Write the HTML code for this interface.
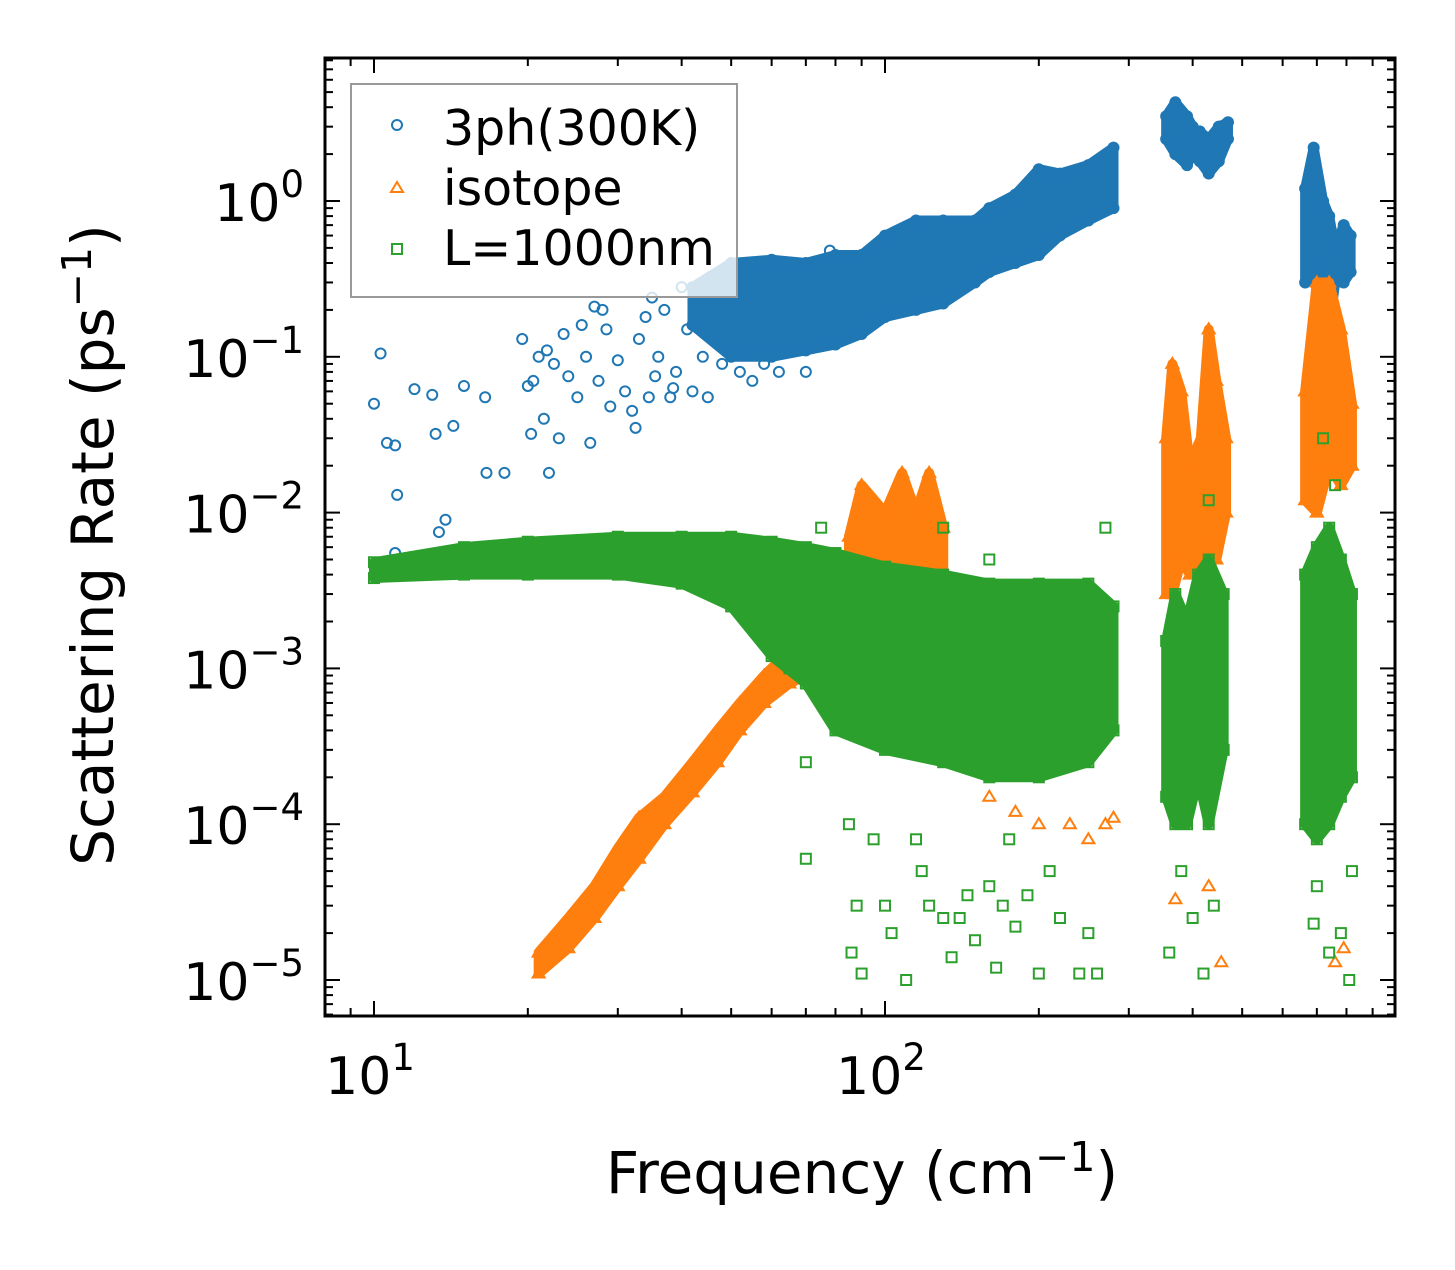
<!DOCTYPE html>
<html><head><meta charset="utf-8"><style>
body{margin:0;background:#fff}
svg text{font-family:"DejaVu Sans","Liberation Sans",sans-serif;fill:#000}
</style></head><body>
<svg id="chart" width="1455" height="1265" xmlns="http://www.w3.org/2000/svg">
<rect width="1455" height="1265" fill="#fff"/>
<g id="marks"></g>
<g id="axes"></g>
<g>
<rect x="351" y="84" width="386" height="213" fill="#fff" fill-opacity="0.8" stroke="#999" stroke-width="2"/>
<circle cx="397" cy="125" r="5" fill="none" stroke="#1f77b4" stroke-width="2"/>
<text x="443" y="145" font-size="49">3ph(300K)</text>
<path d="M397 182 L403 192 L391 192 Z" fill="none" stroke="#ff7f0e" stroke-width="2"/>
<text x="443" y="205" font-size="49">isotope</text>
<rect x="392" y="244" width="10" height="10" fill="none" stroke="#2ca02c" stroke-width="2"/>
<text x="443" y="265" font-size="49">L=1000nm</text>
</g>
<text x="862" y="1193" font-size="58" text-anchor="middle">Frequency (cm<tspan dy="-22" font-size="41">−1</tspan><tspan dy="22">)</tspan></text>
<text transform="translate(113,545) rotate(-90)" font-size="58" text-anchor="middle">Scattering Rate (ps<tspan dy="-22" font-size="41">−1</tspan><tspan dy="22">)</tspan></text>
</svg>
<script>
// ---- data (frequency cm^-1, rate ps^-1) ----
const xTicks = [10, 100];
const xTickLabels = ["1", "2"];
const yTicks = [1, 0.1, 0.01, 0.001, 0.0001, 0.00001];
const yTickLabels = ["0", "−1", "−2", "−3", "−4", "−5"];

const blueSparseF = [10,10.3,10.6,11,11.1,11,12,13,13.2,13.4,13.8,14.3,15,16.5,16.6,18,19.5,20,20.3,20.5,21,21.5,21.8,22,22.5,23,23.5,24,25,25.5,26,26.5,27,27.5,28,28.5,29,30,31,32,32.5,33,34,34.5,35,35.5,36,37,38,38.5,39,40,41,42,43,44,45,47,48,50,52,55,58,62,70,78,90];
const blueSparseR = [0.05,0.105,0.028,0.027,0.013,0.0055,0.062,0.057,0.032,0.0075,0.009,0.036,0.065,0.055,0.018,0.018,0.13,0.065,0.032,0.07,0.1,0.04,0.11,0.018,0.09,0.03,0.14,0.075,0.055,0.16,0.1,0.028,0.21,0.07,0.2,0.15,0.048,0.095,0.06,0.045,0.035,0.13,0.18,0.055,0.24,0.075,0.1,0.2,0.055,0.063,0.08,0.28,0.15,0.06,0.22,0.1,0.055,0.3,0.09,0.38,0.08,0.07,0.09,0.08,0.08,0.48,0.45];

const blueBandF = [42,50,60,70,80,90,100,115,130,150,160,180,200,220,250,280];
const blueBandLo = [0.16,0.1,0.1,0.11,0.12,0.14,0.18,0.2,0.22,0.3,0.35,0.4,0.45,0.6,0.75,0.9];
const blueBandHi = [0.28,0.4,0.42,0.4,0.45,0.45,0.6,0.75,0.75,0.75,0.9,1.1,1.6,1.5,1.7,2.2];
const blueSpikeAF = [355,370,390,400];
const blueSpikeALo = [2.5,2.0,1.7,2.0];
const blueSpikeAHi = [3.5,4.3,3.5,3.0];
const blueSpikeBF = [413,430,450,469];
const blueSpikeBLo = [1.8,1.5,1.8,2.5];
const blueSpikeBHi = [2.8,2.5,3.0,3.2];
const blueSpikeCF = [664,690,720,740,760,790,815];
const blueSpikeCLo = [0.3,0.4,0.1,0.15,0.3,0.3,0.35];
const blueSpikeCHi = [1.2,2.2,1.0,0.8,0.5,0.7,0.6];

const orangeLineF = [21,24,27,30,33,37,42,47,52,58,65,70];
const orangeLineLo = [1.1e-5,1.6e-5,2.5e-5,4e-5,6e-5,1e-4,1.6e-4,2.5e-4,4e-4,6e-4,8e-4,9e-4];
const orangeLineHi = [1.5e-5,2.5e-5,4e-5,7e-5,1.1e-4,1.5e-4,2.5e-4,4e-4,6e-4,9e-4,1.3e-3,1.1e-3];
const orangeClusterF = [85,90,100,108,115,122,130];
const orangeClusterLo = [4e-3,3e-3,3e-3,3e-3,3e-3,3e-3,3e-3];
const orangeClusterHi = [7e-3,1.5e-2,1e-2,1.8e-2,1e-2,1.8e-2,8e-3];
const orangeSpikeAF = [355,365,380,395,415,430,445,465];
const orangeSpikeALo = [3e-3,3e-3,5e-3,4e-3,5e-3,6e-3,5e-3,1e-2];
const orangeSpikeAHi = [0.03,0.09,0.06,0.02,0.03,0.15,0.07,0.03];
const orangeSpikeBF = [664,700,740,780,820];
const orangeSpikeBLo = [0.012,0.01,0.02,0.015,0.02];
const orangeSpikeBHi = [0.06,0.3,0.3,0.15,0.05];
const orangeSparseF = [160,180,200,230,250,270,280,370,430,455,760,790];
const orangeSparseR = [1.5e-4,1.2e-4,1e-4,1e-4,8e-5,1e-4,1.1e-4,3.3e-5,4e-5,1.3e-5,1.3e-5,1.6e-5];

const greenBandF = [10,15,20,30,40,50,60,70,80,100,130,160,200,250,280];
const greenBandLo = [3.8e-3,4e-3,4e-3,4e-3,3.5e-3,2.5e-3,1.2e-3,8e-4,4e-4,3e-4,2.5e-4,2e-4,2e-4,2.5e-4,4e-4];
const greenBandHi = [4.8e-3,6e-3,6.5e-3,7e-3,7e-3,7e-3,6.5e-3,6e-3,5.5e-3,4.5e-3,4e-3,3.5e-3,3.5e-3,3.5e-3,2.5e-3];
const greenSpikeAF = [355,370,390,410,430,460];
const greenSpikeALo = [1.5e-4,1e-4,1e-4,2e-4,1e-4,3e-4];
const greenSpikeAHi = [1.5e-3,3e-3,2e-3,4e-3,5e-3,3e-3];
const greenSpikeBF = [664,700,740,780,820];
const greenSpikeBLo = [1e-4,8e-5,1e-4,1.5e-4,2e-4];
const greenSpikeBHi = [4e-3,6e-3,8e-3,5e-3,3e-3];
const greenSparseF = [70,70,85,88,86,90,95,100,103,110,115,118,122,130,135,140,145,150,160,165,170,175,180,190,200,210,220,240,250,260,360,380,400,420,440,690,700,740,780,810,820,130,160,270,430,720,760,75,60,65];
const greenSparseR = [2.5e-4,6e-5,1e-4,3e-5,1.5e-5,1.1e-5,8e-5,3e-5,2e-5,1e-5,8e-5,5e-5,3e-5,2.5e-5,1.4e-5,2.5e-5,3.5e-5,1.8e-5,4e-5,1.2e-5,3e-5,8e-5,2.2e-5,3.5e-5,1.1e-5,5e-5,2.5e-5,1.1e-5,2e-5,1.1e-5,1.5e-5,5e-5,2.5e-5,1.1e-5,3e-5,2.3e-5,4e-5,1.5e-5,2e-5,1e-5,5e-5,8e-3,5e-3,8e-3,1.2e-2,3e-2,1.5e-2,8e-3,2e-3,1e-3];

// ---- axes ----
const L=325,R=1395,T=58,B=1016;
const X0=374, XD=511, Y0=201, YD=155.8;
function xs(f){return X0+XD*(Math.log10(f)-1);}
function ys(r){return Y0-YD*Math.log10(r);}
const NS="http://www.w3.org/2000/svg";
const marks=document.getElementById('marks');
const axes=document.getElementById('axes');
function mk(tag,attrs,parent){const e=document.createElementNS(NS,tag);for(const k in attrs)e.setAttribute(k,attrs[k]);parent.appendChild(e);return e;}
const colors={blue:"#1f77b4",orange:"#ff7f0e",green:"#2ca02c"};

function marker(kind,f,r,parent){
  const x=xs(f),y=ys(r);let e;
  if(kind==="blue"){e=mk('circle',{cx:x,cy:y,r:5,fill:'none',stroke:colors.blue,'stroke-width':2},parent);}
  else if(kind==="orange"){e=mk('path',{d:`M${x} ${y-6}L${x+6} ${y+4}L${x-6} ${y+4}Z`,fill:'none',stroke:colors.orange,'stroke-width':2},parent);}
  else{e=mk('rect',{x:x-5,y:y-5,width:10,height:10,fill:'none',stroke:colors.green,'stroke-width':2},parent);}
  
  
}
function band(kind,F,LO,HI,name){
  const g=mk('g',{},marks);
  
  
  let d="";
  F.forEach((f,i)=>{d+=(i?"L":"M")+xs(f)+" "+ys(HI[i]);});
  for(let i=F.length-1;i>=0;i--)d+="L"+xs(F[i])+" "+ys(LO[i]);
  d+="Z";
  const p=mk('path',{d:d,fill:colors[kind],stroke:colors[kind],'stroke-width':10,'stroke-linejoin':'round'},g);
  
  
  F.forEach((f,i)=>{marker(kind,f,HI[i],g);marker(kind,f,LO[i],g);});
}
function sparse(kind,F,Rr,name){
  const g=mk('g',{},marks);
  
  
  F.forEach((f,i)=>marker(kind,f,Rr[i],g));
}
sparse("blue",blueSparseF,blueSparseR,"blue-sparse-points");
band("blue",blueBandF,blueBandLo,blueBandHi,"blue-main-band");
band("blue",blueSpikeAF,blueSpikeALo,blueSpikeAHi,"blue-spike-a");
band("blue",blueSpikeBF,blueSpikeBLo,blueSpikeBHi,"blue-spike-b");
band("blue",blueSpikeCF,blueSpikeCLo,blueSpikeCHi,"blue-spike-c");
band("orange",orangeLineF,orangeLineLo,orangeLineHi,"orange-line-band");
band("orange",orangeClusterF,orangeClusterLo,orangeClusterHi,"orange-cluster");
band("orange",orangeSpikeAF,orangeSpikeALo,orangeSpikeAHi,"orange-spike-a");
band("orange",orangeSpikeBF,orangeSpikeBLo,orangeSpikeBHi,"orange-spike-b");
sparse("orange",orangeSparseF,orangeSparseR,"orange-sparse-points");
band("green",greenBandF,greenBandLo,greenBandHi,"green-main-band");
band("green",greenSpikeAF,greenSpikeALo,greenSpikeAHi,"green-spike-a");
band("green",greenSpikeBF,greenSpikeBLo,greenSpikeBHi,"green-spike-b");
sparse("green",greenSparseF,greenSparseR,"green-sparse-points");

const fr=mk('rect',{x:L,y:T,width:R-L,height:B-T,fill:'none',stroke:'#000','stroke-width':3},axes);


for(let dec=1;dec<=3;dec++){
  for(let m=1;m<=9;m++){
    const f=m*Math.pow(10,dec-1);const x=xs(f);
    if(x<L||x>R)continue;
    const len=m===1?15:8;
    mk('line',{x1:x,y1:B,x2:x,y2:B-len,stroke:'#000','stroke-width':2},axes);
    mk('line',{x1:x,y1:T,x2:x,y2:T+len,stroke:'#000','stroke-width':2},axes);
  }
}
xTicks.forEach((f,i)=>{
  const t=mk('text',{x:xs(f)-4,y:1094,'font-size':52,'text-anchor':'middle'},axes);
  t.innerHTML='10<tspan dy="-24" font-size="37">'+xTickLabels[i]+'</tspan>';
  
  
});
for(let e=-6;e<=1;e++){
  for(let m=1;m<=9;m++){
    const r=m*Math.pow(10,e);const y=ys(r);
    if(y<T||y>B)continue;
    const len=m===1?15:8;
    mk('line',{x1:L,y1:y,x2:L+len,y2:y,stroke:'#000','stroke-width':2},axes);
    mk('line',{x1:R,y1:y,x2:R-len,y2:y,stroke:'#000','stroke-width':2},axes);
  }
}
yTicks.forEach((r,i)=>{
  const y=ys(r);
  const t=mk('text',{x:304,y:y+20,'font-size':52,'text-anchor':'end'},axes);
  t.innerHTML='10<tspan dy="-24" font-size="37">'+yTickLabels[i]+'</tspan>';
  
  
});
</script>
</body></html>
